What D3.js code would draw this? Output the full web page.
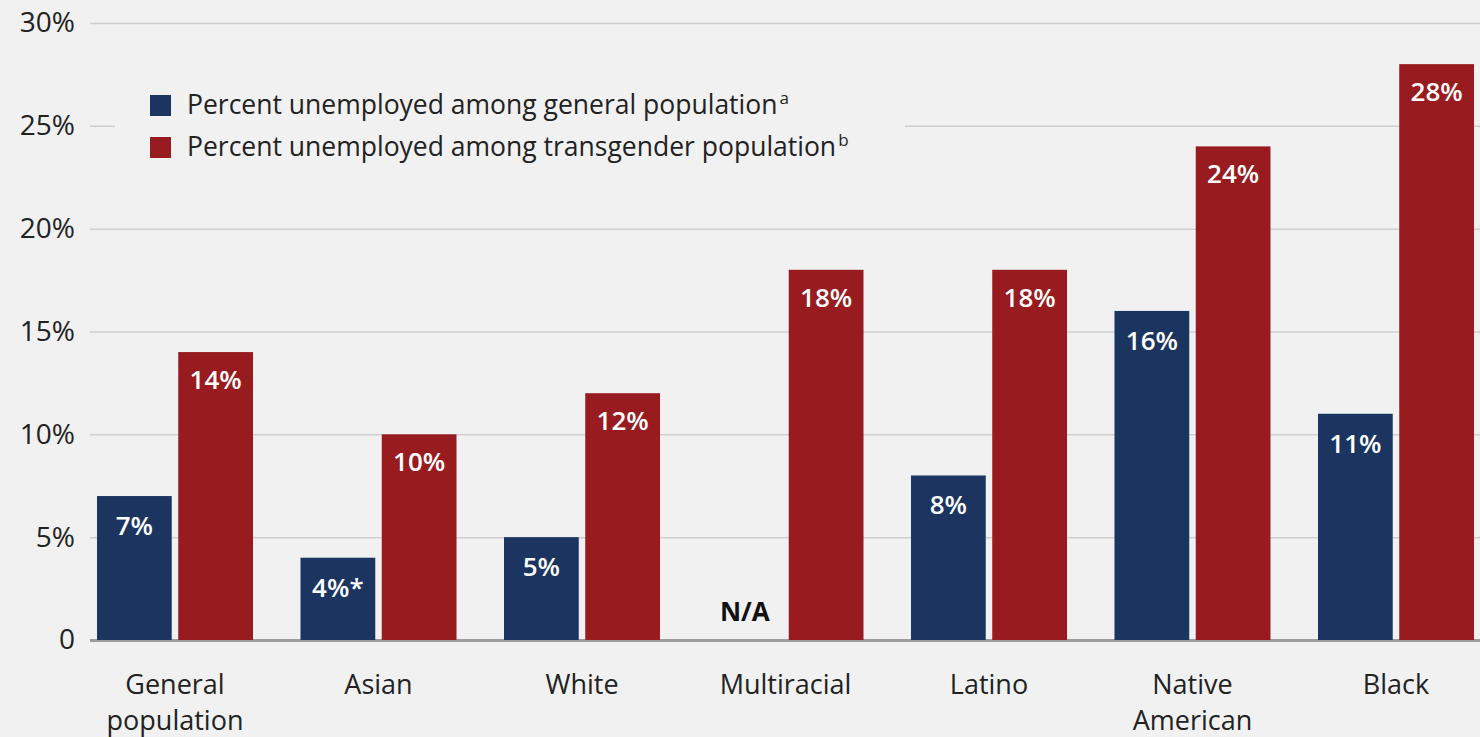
<!DOCTYPE html>
<html lang="en">
<head>
<meta charset="utf-8">
<style>
    body { margin: 0; background: #f1f1f1; }
    text { font-family: "Open Sans", sans-serif; }
</style>
</head>
<body>
    <script src="https://d3js.org/d3.v7.min.js"></script>
    <script>

        const categories = ["General population", "Asian", "White", "Multiracial", "Latino", "Native American", "Black"];
        const generalPop = [7, 4, 5, null, 8, 16, 11];
        const transPop = [14, 10, 12, 18, 18, 24, 28];
        const generalLabels = ["7%", "4%*", "5%", "N/A", "8%", "16%", "11%"];
        const transLabels = ["14%", "10%", "12%", "18%", "18%", "24%", "28%"];
        const yTicks = [0, 5, 10, 15, 20, 25, 30];
        const seriesNames = ["Percent unemployed among general population", "Percent unemployed among transgender population"];
        const seriesSup = ["a", "b"];

        const width = 1480;
        const height = 737;
        const blue = "#1b3560";
        const red = "#981b1f";
        const bg = "#f1f1f1";

        const svg = d3.select("body")
            .append("svg")
            .attr("width", width)
            .attr("height", height);

        svg.append("rect")
            .attr("width", width)
            .attr("height", height)
            .attr("fill", bg);

        const x = d3.scaleBand()
            .domain(categories)
            .range([97, 1474])
            .paddingInner(0.2334)
            .paddingOuter(0);

        const xs = d3.scaleBand()
            .domain(["general", "trans"])
            .range([0, x.bandwidth()])
            .paddingInner(0.08);

        const y = d3.scaleLinear()
            .domain([0, 30])
            .range([640, 23]);

        const idx = d => categories.indexOf(d);

        // gridlines + tick labels
        const yAxis = d3.axisLeft(y)
            .tickValues(yTicks)
            .tickSize(-(width - 90))
            .tickFormat(d => d === 0 ? "0" : d + "%");

        const gy = svg.append("g")
            .attr("transform", "translate(90,0)")
            .call(yAxis);
        gy.select(".domain").remove();
        gy.selectAll(".tick line")
            .attr("stroke", d => d === 0 ? "#9c9c9c" : "#cfcfcf")
            .attr("stroke-width", d => d === 0 ? 3 : 1.5);
        gy.selectAll(".tick text")
            .attr("x", -15)
            .attr("fill", "#222")
            .style("font-size", "28px")
            .style("font-family", "'Open Sans', sans-serif");

        // legend box hides gridline behind it
        svg.append("rect")
            .attr("x", 115)
            .attr("y", 80)
            .attr("width", 790)
            .attr("height", 92)
            .attr("fill", bg);

        const groups = svg.selectAll("g.grp")
            .data(categories)
            .enter()
            .append("g")
            .attr("class", "grp")
            .attr("transform", d => "translate(" + x(d) + ",0)");

        groups.append("rect")
            .attr("x", xs("general"))
            .attr("width", xs.bandwidth())
            .attr("y", d => y(generalPop[idx(d)] || 0))
            .attr("height", d => y(0) - y(generalPop[idx(d)] || 0))
            .attr("fill", blue);

        groups.append("rect")
            .attr("x", xs("trans"))
            .attr("width", xs.bandwidth())
            .attr("y", d => y(transPop[idx(d)]))
            .attr("height", d => y(0) - y(transPop[idx(d)]))
            .attr("fill", red);

        groups.append("text")
            .attr("x", xs("general") + xs.bandwidth() / 2)
            .attr("y", d => generalPop[idx(d)] === null ? y(0) - 19 : y(generalPop[idx(d)]) + 39)
            .attr("text-anchor", "middle")
            .attr("fill", d => generalPop[idx(d)] === null ? "#111" : "#fff")
            .style("font-size", "26px")
            .style("font-weight", d => generalPop[idx(d)] === null ? 700 : 600)
            .text(d => generalLabels[idx(d)]);

        groups.append("text")
            .attr("x", xs("trans") + xs.bandwidth() / 2)
            .attr("y", d => y(transPop[idx(d)]) + 37)
            .attr("text-anchor", "middle")
            .attr("fill", "#fff")
            .style("font-size", "26px")
            .style("font-weight", 600)
            .text(d => transLabels[idx(d)]);

        // category labels, wrapped on space for two-word names
        groups.append("text")
            .attr("x", x.bandwidth() / 2)
            .attr("y", 694)
            .attr("text-anchor", "middle")
            .attr("fill", "#222")
            .style("font-size", "27px")
            .each(function (d) {
                const words = d.split(" ");
                d3.select(this).selectAll("tspan")
                    .data(words)
                    .enter()
                    .append("tspan")
                    .attr("x", x.bandwidth() / 2)
                    .attr("dy", (w, j) => j === 0 ? 0 : 36)
                    .text(w => w);
            });

        // legend
        const legend = svg.append("g")
            .attr("transform", "translate(150,95)");
        const colors = [blue, red];
        seriesNames.forEach(function (name, i) {
            const row = legend.append("g")
                .attr("transform", "translate(0," + i * 42 + ")");
            row.append("rect")
                .attr("width", 21)
                .attr("height", 21)
                .attr("fill", colors[i]);
            const t = row.append("text")
                .attr("x", 37)
                .attr("y", 19)
                .attr("fill", "#222")
                .style("font-size", "26.5px")
                .text(name);
            t.append("tspan")
                .attr("dx", 2)
                .attr("dy", -10)
                .style("font-size", "17px")
                .text(seriesSup[i]);
        });

    </script>
</body>
</html>
